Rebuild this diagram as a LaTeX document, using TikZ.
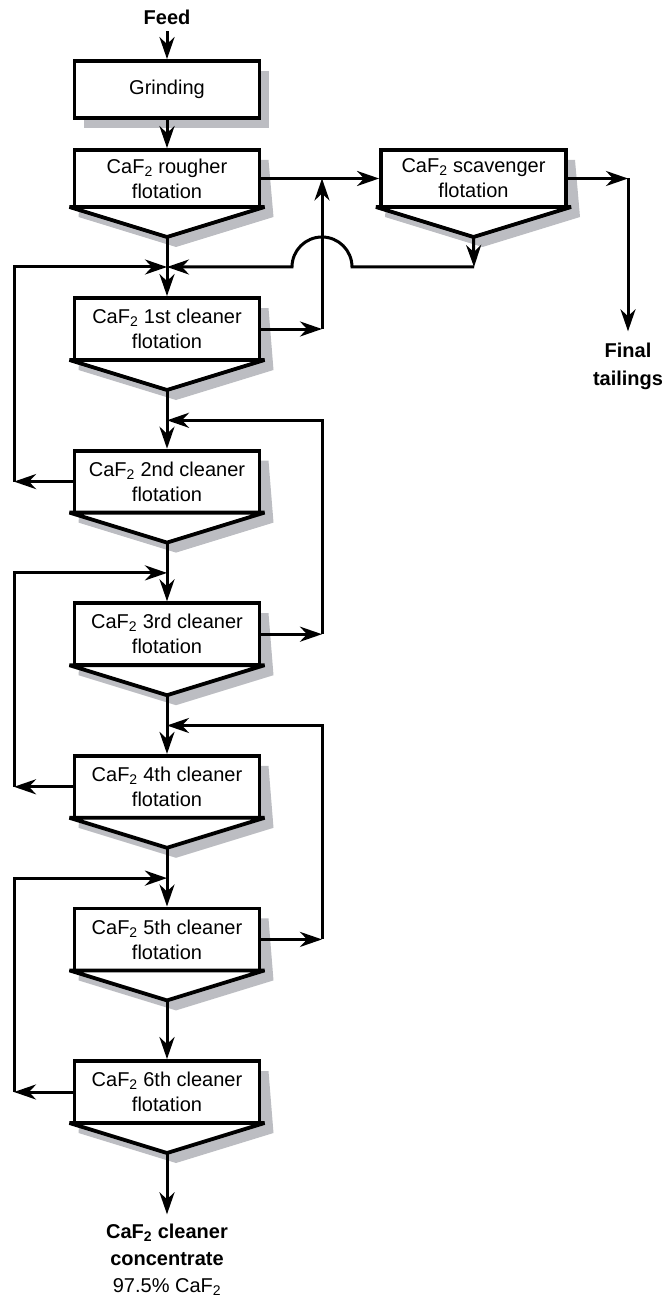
\documentclass[tikz,border=0pt]{standalone}
\usepackage{fontspec}
\setmainfont{Liberation Sans}
\usetikzlibrary{arrows.meta,calc}
\definecolor{shadowgrey}{RGB}{188,189,194}
\newcommand\sdx{9}
\newcommand\sdy{10}
% one flotation cell: box with a hopper below it and a drop shadow
% #1 name, #2 centre x, #3 top y, #4 bottom y, #5 label
\newcommand\flotcell[5]{%
  \fill[shadowgrey] ({#2-92.5+\sdx},{#3+\sdy}) -- ({#2+92.5+\sdx},{#3+\sdy})
     -- ({#2+97.5+\sdx},{#4+\sdy}) -- ({#2+\sdx},{#4+30+\sdy})
     -- ({#2-97.5+\sdx},{#4+\sdy}) -- cycle;
  \node[unit, minimum height={(#4-#3)*1pt}] (#1) at (#2,{(#3+#4)/2}) {#5};
  \coordinate (#1-tip) at (#2,{#4+30});
  \filldraw[hopper] ({#2-97.5},#4) -- ({#2+97.5},#4) -- (#1-tip) -- cycle;
}
\begin{document}
\begin{tikzpicture}[x=1pt,y=-1pt,
  unit/.style={draw, line width=3.8pt, fill=white, minimum width=185pt,
    inner sep=0pt, align=center, font=\fontsize{20}{25}\selectfont},
  hopper/.style={draw, line width=3.8pt, fill=white, line join=bevel},
  flow/.style={line width=3pt, -{Stealth[length=22pt,width=15pt,inset=7pt]}},
  lbl/.style={font=\fontsize{20}{25}\selectfont\bfseries, inner sep=0pt},
]
\useasboundingbox (0,0) rectangle (667,1305);

% feed and grinding
\node[lbl, anchor=base, inner ysep=6pt] (feed) at (167,25) {Feed};
\fill[shadowgrey] ({74.5+\sdx},{61+\sdy}) rectangle ({259.5+\sdx},{118+\sdy});
\node[unit, minimum height=57pt] (grind) at (167,89.5) {Grinding};

% rougher, scavenger and cleaners
\flotcell{rough}{167}{150}{207}{CaF\textsubscript{2} rougher\\flotation}
\flotcell{scav}{473.5}{150}{207}{CaF\textsubscript{2} scavenger\\flotation}
\flotcell{c1}{167}{298}{360}{CaF\textsubscript{2} 1st cleaner\\flotation}
\flotcell{c2}{167}{450.6}{512.6}{CaF\textsubscript{2} 2nd cleaner\\flotation}
\flotcell{c3}{167}{603.2}{665.2}{CaF\textsubscript{2} 3rd cleaner\\flotation}
\flotcell{c4}{167}{755.8}{817.8}{CaF\textsubscript{2} 4th cleaner\\flotation}
\flotcell{c5}{167}{908.4}{970.4}{CaF\textsubscript{2} 5th cleaner\\flotation}
\flotcell{c6}{167}{1061}{1123}{CaF\textsubscript{2} 6th cleaner\\flotation}

% products
\node[lbl, anchor=base, inner ysep=11pt] (final) at (628,357) {Final};
\node[lbl, anchor=base] (final2) at (628,385) {tailings};
\node[lbl, anchor=base, inner ysep=9pt] (conc) at (167,1238) {CaF\textsubscript{2} cleaner};
\node[lbl, anchor=base] (conc2) at (167,1265) {concentrate};
\node[lbl, font=\fontsize{20}{25}\selectfont, anchor=base] (conc3) at (167,1292) {97.5\% CaF\textsubscript{2}};

% junction points
\coordinate (lx) at (14,0);
\coordinate (m0) at (167,267);
\coordinate (m1) at (167,420.3);
\coordinate (m2) at (167,572.9);
\coordinate (m3) at (167,725.5);
\coordinate (m4) at (167,878.1);
\coordinate (rj) at (322,178.5);
\coordinate (r0) at (322,329);
\coordinate (r1) at (322,634.2);
\coordinate (r2) at (322,939.4);
\coordinate (sj) at (474,267);
\coordinate (jmp) at (322,267);
\coordinate (tj) at (628,178.5);

% main concentrate line
\draw[flow] (feed) -- (grind);
\draw[flow] (grind) -- (rough);
\draw[flow] (rough-tip) -- (c1);
\draw[flow] (c1-tip) -- (c2);
\draw[flow] (c2-tip) -- (c3);
\draw[flow] (c3-tip) -- (c4);
\draw[flow] (c4-tip) -- (c5);
\draw[flow] (c5-tip) -- (c6);
\draw[flow] (c6-tip) -- (conc);

% rougher tailings to scavenger, scavenger tailings out
\draw[flow] (rough.east) -- (scav.west);
\draw[flow] (c1.east) -- (r0);
\draw[flow] (r0) -- (rj);
\draw[flow] (scav.east) -- (tj);
\draw[flow] (tj) -- (final);

% scavenger concentrate back to the first cleaner feed
\draw[flow] (scav-tip) -- (sj);
\draw[flow] (sj) -- ([xshift=30pt]jmp) arc[start angle=0, end angle=180, radius=30pt] -- (m0);

% cleaner tailings returned one stage back
\draw[flow] (c2.west) -- (lx |- c2.west);
\draw[flow] (lx |- c2.west) -- (lx |- m0) -- (m0);
\draw[flow] (c3.east) -- (r1);
\draw[flow] (r1) -- (r1 |- m1) -- (m1);
\draw[flow] (c4.west) -- (lx |- c4.west);
\draw[flow] (lx |- c4.west) -- (lx |- m2) -- (m2);
\draw[flow] (c5.east) -- (r2);
\draw[flow] (r2) -- (r2 |- m3) -- (m3);
\draw[flow] (c6.west) -- (lx |- c6.west);
\draw[flow] (lx |- c6.west) -- (lx |- m4) -- (m4);
\end{tikzpicture}
\end{document}
